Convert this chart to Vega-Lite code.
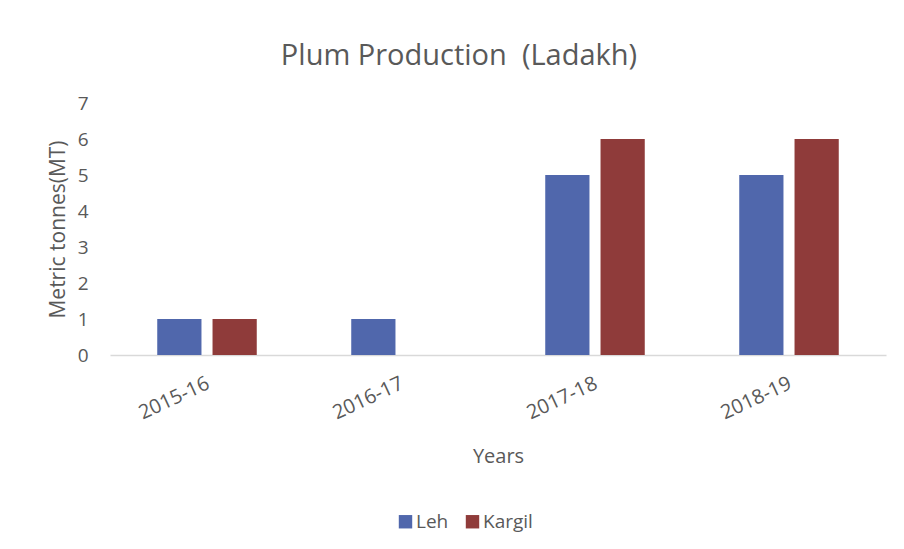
{
  "$schema": "https://vega.github.io/schema/vega-lite/v6.json",
  "autosize": {"type": "none"},
  "padding": {"left": 110, "top": 103, "right": 18, "bottom": 194},
  "width": 776,
  "height": 252,
  "background": "white",
  "config": {
    "view": {"stroke": null},
    "font": "Open Sans"
  },
  "title": {
    "text": "Plum Production \u00a0(Ladakh)",
    "fontSize": 29,
    "fontWeight": "normal",
    "color": "#595959",
    "font": "Open Sans",
    "offset": 23,
    "dx": -39
  },
  "data": {
    "values": [
      {"year": "2015-16", "district": "Leh", "value": 1},
      {"year": "2015-16", "district": "Kargil", "value": 1},
      {"year": "2016-17", "district": "Leh", "value": 1},
      {"year": "2016-17", "district": "Kargil", "value": 0},
      {"year": "2017-18", "district": "Leh", "value": 5},
      {"year": "2017-18", "district": "Kargil", "value": 6},
      {"year": "2018-19", "district": "Leh", "value": 5},
      {"year": "2018-19", "district": "Kargil", "value": 6}
    ]
  },
  "mark": {"type": "bar"},
  "encoding": {
    "x": {
      "field": "year",
      "type": "nominal",
      "sort": null,
      "scale": {"paddingInner": 0.43, "paddingOuter": 0.215},
      "axis": {
        "title": "Years",
        "titleFontSize": 20,
        "titleFontWeight": "normal",
        "titleColor": "#595959",
        "titlePadding": 24,
        "labelAngle": -25,
        "labelFontSize": 20,
        "labelColor": "#595959",
        "labelPadding": 18,
        "labelOffset": -3,
        "ticks": false,
        "domainColor": "#d9d9d9",
        "domainWidth": 1.5,
        "grid": false
      }
    },
    "xOffset": {
      "field": "district",
      "type": "nominal",
      "sort": ["Leh", "Kargil"],
      "scale": {"paddingInner": 0.2, "paddingOuter": 0.1}
    },
    "y": {
      "field": "value",
      "type": "quantitative",
      "scale": {"domain": [0, 7], "nice": false},
      "axis": {
        "title": "Metric tonnes(MT)",
        "titleFontSize": 21,
        "titleFontWeight": "normal",
        "titleColor": "#595959",
        "titlePadding": 9,
        "values": [0, 1, 2, 3, 4, 5, 6, 7],
        "labelFontSize": 19,
        "labelColor": "#595959",
        "labelPadding": 22,
        "ticks": false,
        "domain": false,
        "grid": false
      }
    },
    "color": {
      "field": "district",
      "type": "nominal",
      "sort": ["Leh", "Kargil"],
      "scale": {"domain": ["Leh", "Kargil"], "range": ["#5067ac", "#8f3b3a"]},
      "legend": {
        "title": null,
        "orient": "none",
        "direction": "horizontal",
        "legendX": 286,
        "legendY": 409,
        "symbolType": "square",
        "symbolSize": 180,
        "symbolStrokeWidth": 0,
        "labelFontSize": 19,
        "labelColor": "#595959",
        "labelOffset": 1,
        "columnPadding": 14
      }
    }
  }
}
